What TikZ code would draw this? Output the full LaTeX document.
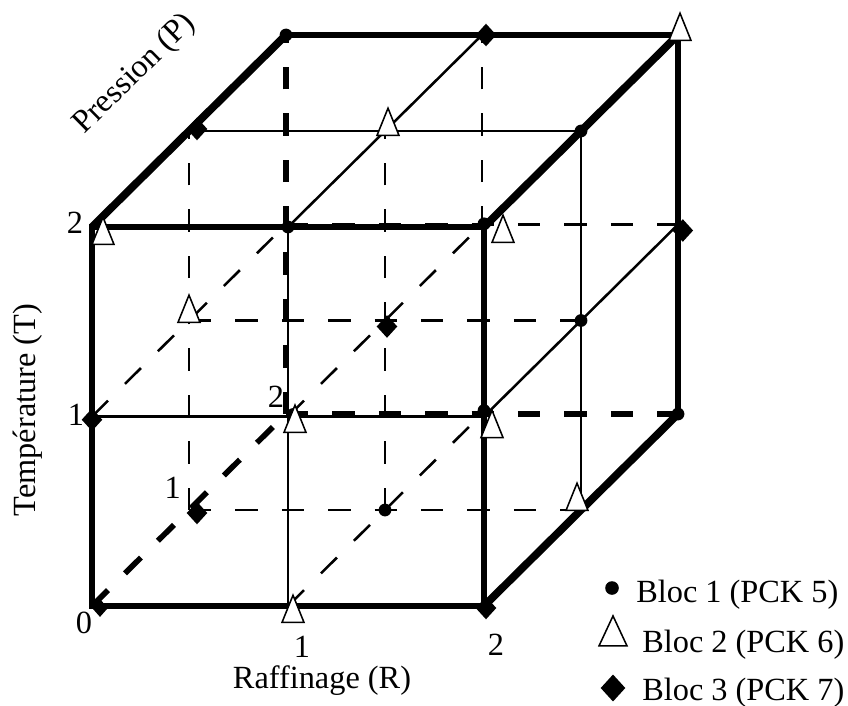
\documentclass[tikz,border=0pt]{standalone}
\usepackage{fontspec}
\setmainfont{Liberation Serif}
\usetikzlibrary{shapes.geometric, positioning}

\begin{document}
\begin{tikzpicture}[x={(4.9cm,0cm)}, y={(0cm,4.7375cm)}, z={(2.425cm,2.4cm)}]
    \useasboundingbox (-2.3cm,-2.475cm) rectangle ++(21.2cm,17.625cm);

    % styles
    \tikzstyle{thinline} = [line width=1.8pt]
    \tikzstyle{hid} = [line width=1.8pt, dash pattern=on 16pt off 17pt]
    \tikzstyle{hidedge} = [line width=4pt, dash pattern=on 16pt off 17pt]
    \tikzstyle{outer} = [line width=3.6pt, line join=miter]
    \tikzstyle{deep} = [line width=5.5pt]
    \tikzstyle{dot} = [circle, fill=black, inner sep=0pt, minimum size=0.32cm]
    \tikzstyle{tri} = [isosceles triangle, isosceles triangle stretches, shape border rotate=90, draw=black, fill=white, line width=1.1pt, inner sep=0pt, minimum width=0.55cm, minimum height=0.68cm]
    \tikzstyle{dia} = [diamond, fill=black, inner sep=0pt, minimum width=0.52cm, minimum height=0.57cm]
    \tikzstyle{lbl} = [font=\fontsize{23}{27}\selectfont, inner sep=0pt]

    % lattice points (R, T, P)
    \foreach \r in {0,1,2}{
        \foreach \t in {0,1,2}{
            \foreach \p in {0,1,2}{
                \coordinate (c\r\t\p) at (\r,\t,\p);
            }
        }
    }

    % hidden lines
    \draw[hid] (c001) -- (c201);
    \draw[hid] (c011) -- (c211);
    \draw[hid] (c012) -- (c212);
    \draw[hid] (c001) -- (c021);
    \draw[hid] (c101) -- (c121);
    \draw[hid] (c102) -- (c122);
    \draw[hid] (c010) -- (c012);
    \draw[hid] (c110) -- (c112);
    \draw[hid] (c100) -- (c102);
    \draw[hidedge] (c000) -- (c002);
    \draw[hidedge] (c002) -- (c202);
    \draw[hidedge] (c002) -- (c022);

    % visible grid lines
    \draw[thinline] (c010) -- (c210);
    \draw[thinline] (c100) -- (c120);
    \draw[thinline] (c021) -- (c221);
    \draw[thinline] (c120) -- (c122);
    \draw[thinline] (c201) -- (c221);
    \draw[thinline] (c210) -- (c212);

    % outline
    \draw[outer] (c000) -- (c200) -- (c220) -- (c020) -- cycle;
    \draw[outer] (c022) -- (c222) -- (c202);
    \draw[deep] (c020) -- (c022);
    \draw[deep] (c220) -- (c222);
    \draw[deep] (c200) -- (c202);

    % Bloc 1
    \node[dot] (d1) at (c120) {};
    \node[dot] (d2) at (c221) {};
    \node[dot] (d3) at (c022) {};
    \node[dot] (d4) at (c211) {};
    \node[dot] (d5) at (c202) {};
    \node[dot] (d6) at (c101) {};
    \node[dot] (d7) at ([shift={(0.125cm,0.05cm)}]c110) {};
    \node[dot] (d8) at ([shift={(0cm,0.15cm)}]c210) {};
    \node[dot] (d9) at ([shift={(0cm,0.08cm)}]c220) {};

    % Bloc 2
    \node[tri] (t1) at ([shift={(0.125cm,-0.225cm)}]c100) {};
    \node[tri] (t2) at ([shift={(0.275cm,-0.25cm)}]c020) {};
    \node[tri] (t3) at ([shift={(0.075cm,0.075cm)}]c121) {};
    \node[tri] (t4) at ([shift={(0.05cm,0.05cm)}]c222) {};
    \node[tri] (t5) at ([shift={(-0.1cm,0.175cm)}]c201) {};
    \node[tri] (t6) at ([shift={(0cm,0.14cm)}]c011) {};
    \node[tri] (t7) at ([shift={(0.175cm,-0.21cm)}]c110) {};
    \node[tri] (t8) at ([shift={(0.2cm,-0.34cm)}]c210) {};
    \node[tri] (t9) at ([shift={(0.475cm,-0.2cm)}]c220) {};

    % Bloc 3
    \node[dia, minimum width=0.4cm, minimum height=0.45cm] (r1) at ([shift={(0.2cm,-0.05cm)}]c000) {};
    \node[dia] (r2) at ([shift={(0.05cm,-0.05cm)}]c200) {};
    \node[dia] (r3) at ([shift={(0cm,-0.08cm)}]c010) {};
    \node[dia] (r4) at ([shift={(0.2cm,0.05cm)}]c021) {};
    \node[dia] (r5) at ([shift={(0.1cm,0cm)}]c122) {};
    \node[dia] (r6) at ([shift={(0.12cm,-0.15cm)}]c212) {};
    \node[dia] (r7) at ([shift={(0.05cm,-0.15cm)}]c111) {};
    \node[dia] (r8) at ([shift={(0.2cm,-0.075cm)}]c001) {};

    % axis labels
    \node[lbl] (l0) at ([shift={(-0.2cm,-0.425cm)}]c000) {0};
    \node[lbl] (lt1) at ([shift={(-0.4cm,0.04cm)}]c010) {1};
    \node[lbl] (lt2) at ([shift={(-0.425cm,0.1cm)}]c020) {2};
    \node[lbl] (lr1) at ([shift={(0.35cm,-1.025cm)}]c100) {1};
    \node[lbl] (lr2) at ([shift={(0.3cm,-0.975cm)}]c200) {2};
    \node[lbl] (lp1) at ([shift={(-0.41cm,0.55cm)}]c001) {1};
    \node[lbl] (lp2) at ([shift={(-0.25cm,0.425cm)}]c002) {2};
    \node[lbl, anchor=base] (raf) at ([shift={(0.85cm,-2.05cm)}]c100) {Raffinage (R)};
    \node[lbl, rotate=90] (temp) at ([shift={(-1.6cm,0.16cm)}]c010) {Température (T)};
    \node[lbl, rotate=44.6] (pres) at ([shift={(-1.35cm,1.42cm)}]c021) {Pression (P)};

    % legend
    \node[dot, minimum size=0.34cm] (k1) at (13cm,0.45cm) {};
    \node[lbl, anchor=base west] (k1t) at (13.6cm,0.1cm) {Bloc 1 (PCK 5)};
    \node[tri, minimum width=0.7cm, minimum height=0.75cm] (k2) at (13.025cm,-0.775cm) {};
    \node[lbl, anchor=base west] (k2t) at (13.75cm,-1.15cm) {Bloc 2 (PCK 6)};
    \node[dia, minimum width=0.62cm, minimum height=0.68cm] (k3) at (13.025cm,-2.05cm) {};
    \node[lbl, anchor=base west] (k3t) at (13.75cm,-2.35cm) {Bloc 3 (PCK 7)};
\end{tikzpicture}
\end{document}
